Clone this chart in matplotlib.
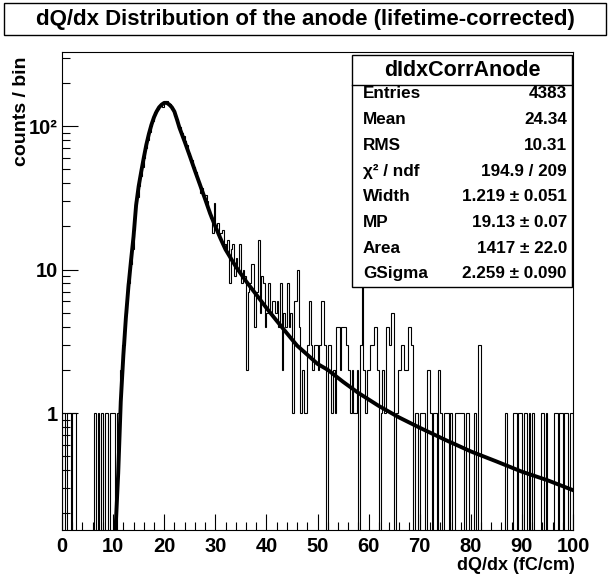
import numpy as np
import matplotlib.pyplot as plt
from matplotlib.patches import Rectangle
from matplotlib.ticker import MultipleLocator, LogLocator, NullFormatter

plt.rcParams['font.family'] = ['Liberation Sans', 'DejaVu Sans']
plt.rcParams['font.weight'] = 'bold'

# histogram: 300 bins of width 1/3 from 0 to 100
x_min, x_max, n_bins = 0.0, 100.0, 300
counts = [
    1, 1, 0, 1, 1, 0, 1, 1, 0, 0, 0, 0, 0, 0, 0, 0, 0, 0, 0, 1,
    0, 1, 0, 1, 0, 1, 1, 0, 1, 1,
    1, 0, 1, 1, 2, 3, 3, 5, 8, 8,
    11, 14, 19, 30, 32, 38, 45, 52, 60, 70,
    80, 91, 100, 108, 125, 128, 132, 137, 140, 136,
    145, 150, 140, 143, 132, 127, 118, 112, 100, 98,
    90, 85, 79, 74, 65, 62, 58, 52, 48, 44,
    41, 34, 37, 33, 33, 30, 26, 23, 18, 29,
    20, 21, 17, 18, 19, 15, 14, 16, 8, 14,
    15, 9, 12, 10, 15, 8, 10, 9, 2, 7,
    8, 11, 11, 4, 7, 16, 5, 9, 8, 4,
    5, 8, 5, 6, 6, 5, 6, 4, 8, 2,
    5, 4, 8, 4, 5, 1, 6, 6, 10, 4,
    1, 2, 1, 1, 3, 6, 3, 2, 3, 3,
    2, 3, 6, 6, 3, 0, 3, 3, 1, 2,
    1, 4, 4, 2, 4, 4, 4, 3, 2, 1,
    2, 1, 1, 2, 0, 3, 14, 2, 1, 2,
    2, 3, 3, 4, 4, 2, 0, 1, 2, 1,
    4, 4, 3, 5, 5, 0, 1, 2, 2, 3,
    3, 2, 2, 4, 4, 3, 0, 1, 1, 0,
    1, 1, 1, 0, 2, 2, 1, 0, 1, 1,
    0, 2, 1, 0, 1, 1, 1, 0, 1, 0,
    0, 1, 1, 1, 1, 1, 0, 1, 1, 0,
    0, 0, 1, 0, 3, 3, 0, 0, 0, 0,
    0, 0, 0, 0, 0, 0, 0, 0, 0, 0,
    1, 0, 0, 0, 0, 1, 1, 0, 1, 1,
    0, 1, 1, 0, 1, 0, 1, 0, 0, 0,
    0, 1, 1, 0, 1, 0, 0, 0, 0, 1,
    1, 0, 1, 1, 0, 1, 1, 0, 1, 1,
]

# Landau (x) Gauss fit
fit_x = [10.0, 10.5, 11.0, 11.5, 12.0, 12.5, 13.0, 13.5, 14.0, 14.5, 15.0,
         15.5, 16.0, 16.5, 17.0, 17.5, 18.0, 18.5, 19.0, 19.5, 20.0, 20.5,
         21.0, 21.5, 22.0, 22.5, 23.0, 24, 25, 26, 27, 28, 29, 30, 31, 32,
         34, 36, 38, 40, 42, 44, 46, 48, 50, 52, 55, 58, 62, 66, 70, 75,
         80, 85, 90, 95, 100]
fit_y = [0.06, 0.16, 0.38, 1.2, 2.5, 4.6, 7.6, 11.5, 17, 28, 38,
         48, 60, 74, 88, 102, 115, 126, 135, 141, 145, 145,
         141, 135, 126, 111, 97, 78, 62, 49, 39, 31, 24.5, 20, 16.5, 13.8,
         10.5, 8.3, 6.7, 5.4, 4.4, 3.6, 2.95, 2.55, 2.2, 2.0, 1.65, 1.38,
         1.12, 0.93, 0.79, 0.65, 0.54, 0.46, 0.39, 0.34, 0.29]

x_ticks = [0, 10, 20, 30, 40, 50, 60, 70, 80, 90, 100]
y_ticks = [1, 10, 100]
y_tick_labels = ['1', '10', '10²']

title = 'dQ/dx Distribution of the anode (lifetime-corrected)'
stats_name = 'dIdxCorrAnode'
stats_labels = ['Entries', 'Mean', 'RMS', 'χ² / ndf', 'Width', 'MP', 'Area', 'GSigma']
stats_values = ['4383', '24.34', '10.31', '194.9 / 209', '1.219 ± 0.051',
                '19.13 ± 0.07', '1417 ± 22.0', '2.259 ± 0.090']

W, H = 610, 577
def fx(px):
    return px / W
def fy(py):
    return 1 - py / H

fig = plt.figure(figsize=(W / 100, H / 100), dpi=100)
ax = fig.add_axes([fx(62), fy(530), (573 - 62) / W, (530 - 52) / H])

edges = np.linspace(x_min, x_max, n_bins + 1)
vals = np.array(counts, dtype=float)
floor = 1e-3
ax.stairs(np.where(vals > 0, vals, floor), edges, baseline=floor,
          color='black', lw=0.8)
ax.plot(fit_x, fit_y, color='black', lw=2.8)

ax.set_yscale('log')
ax.set_xlim(x_min, x_max)
ax.set_ylim(0.153, 328)

ax.set_xticks(x_ticks)
ax.set_xticklabels([str(t) for t in x_ticks])
ax.xaxis.set_minor_locator(MultipleLocator(2))
ax.set_yticks(y_ticks)
ax.set_yticklabels(y_tick_labels)
ax.yaxis.set_minor_locator(LogLocator(base=10, subs=np.arange(2, 10)))
ax.yaxis.set_minor_formatter(NullFormatter())

ax.tick_params(which='major', direction='in', length=11.5, width=0.8,
               labelsize=14.5, top=False, right=False)
ax.tick_params(which='minor', direction='in', length=6, width=0.8,
               top=False, right=False)
ax.tick_params(axis='x', pad=5)
ax.tick_params(axis='y', pad=3)
for lab in ax.get_xticklabels() + ax.get_yticklabels():
    lab.set_fontweight('bold')
for sp in ax.spines.values():
    sp.set_linewidth(0.8)

fig.text(fx(575), fy(565), 'dQ/dx (fC/cm)', ha='right', va='center',
         fontsize=13, fontweight='bold')
fig.text(fx(22), fy(56), 'counts / bin', ha='center', va='top',
         rotation=90, fontsize=14, fontweight='bold')

# title box
fig.add_artist(Rectangle((fx(4), fy(35)), (606 - 4) / W, (35 - 3) / H,
                         transform=fig.transFigure, facecolor='white',
                         edgecolor='black', lw=1))
fig.text(fx(305), fy(19), title, ha='center', va='center',
         fontsize=16, fontweight='bold')

# stats box
fig.add_artist(Rectangle((fx(352), fy(287)), (572 - 352) / W, (287 - 55) / H,
                         transform=fig.transFigure, facecolor='white',
                         edgecolor='black', lw=1, zorder=5))
fig.add_artist(plt.Line2D([fx(352), fx(572)], [fy(85), fy(85)],
                          transform=fig.transFigure, color='black', lw=1,
                          zorder=6))
fig.text(fx(462), fy(70), stats_name, ha='center', va='center',
         fontsize=15.5, fontweight='bold', zorder=7)
for i, (lab, val) in enumerate(zip(stats_labels, stats_values)):
    y = fy(94 + 25.7 * i)
    fig.text(fx(363), y, lab, ha='left', va='center', fontsize=12.3,
             fontweight='bold', zorder=7)
    fig.text(fx(567), y, val, ha='right', va='center', fontsize=12.3,
             fontweight='bold', zorder=7)

fig.savefig('out.png', dpi=100)
